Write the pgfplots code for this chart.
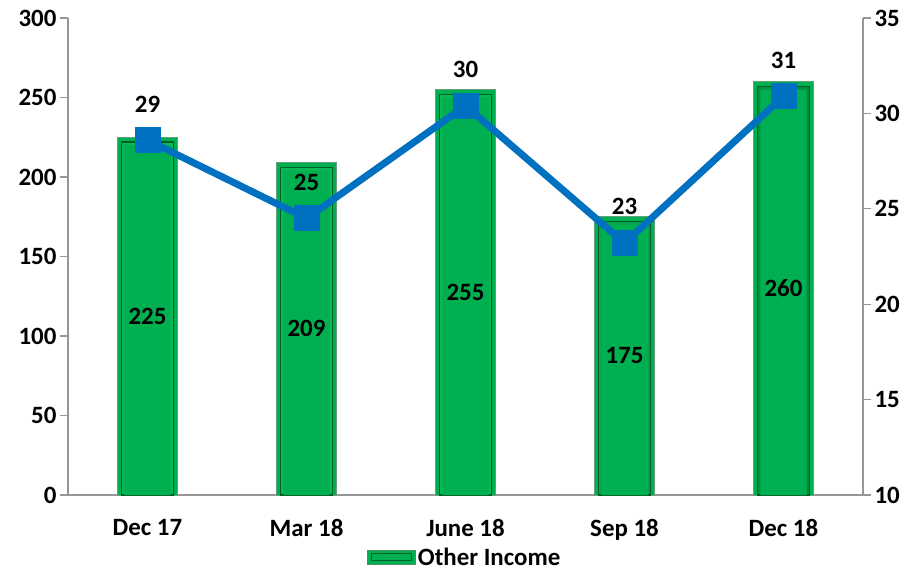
\documentclass[border=0pt]{standalone}
\usepackage{pgfplots}
\pgfplotsset{compat=1.18}
\usepackage{pgfplotstable}
\usepackage{fontspec}
\setmainfont{Carlito}
\definecolor{barg}{RGB}{0,176,80}
\definecolor{barlight}{RGB}{10,184,86}
\definecolor{bardark}{RGB}{0,95,40}
\definecolor{lineb}{RGB}{0,112,192}
\definecolor{axgray}{RGB}{150,150,150}

\pgfplotstableread{
x v line lab
0 225 28.6 29
1 209 24.5 25
2 255 30.4 30
3 175 23.2 23
4 260 30.9 31
}\data

\newcommand{\lblfont}{\bfseries\fontsize{25}{28}\selectfont}

\begin{document}
\begin{tikzpicture}
\path[use as bounding box] (-68bp,-75bp) rectangle (845bp,495bp);
\begin{axis}[
  scale only axis, width=795bp, height=477bp,
  xmin=-0.5, xmax=4.5, ymin=0, ymax=300,
  ytick={0,50,...,300},
  xtick={0,1,2,3,4},
  xticklabels={Dec 17,Mar 18,June 18,Sep 18,Dec 18},
  extra x ticks={-0.5,0.5,1.5,2.5,3.5,4.5},
  extra x tick labels={},
  extra x tick style={major tick length=8bp, tick style={draw=axgray, line width=1.2bp}},
  major x tick style={draw=none},
  axis y line*=left, axis x line*=bottom,
  axis line style={draw=axgray, line width=1.2bp, -},
  tick style={draw=axgray, line width=1.2bp},
  tick align=outside, major tick length=8bp,
  ticklabel style={font=\lblfont},
  xticklabel style={yshift=-13bp},
  /pgf/number format/assume math mode=true,
  clip=false,
  legend style={at={(0.499,-0.13)}, anchor=center, draw=none, fill=none,
    font=\lblfont, inner sep=0pt},
  legend image code/.code={\draw[fill=barg, draw=bardark!70, line width=0.8bp] (0bp,-7bp) rectangle (48bp,7bp);
    \draw[draw=bardark, line width=0.8bp] (4bp,-3.5bp) rectangle (44bp,3.5bp);},
]
\addplot[ybar, bar width=0.38, bar shift=0pt, draw=bardark!60, line width=0.8bp,
  fill=barg] table[x=x, y=v] {\data};
\addlegendentry{Other Income}
\addplot[ybar, bar width=0.33, bar shift=0pt, draw=bardark, line width=1.2bp,
  left color=barlight, right color=barg!80!black, middle color=barlight, forget plot] table[x=x, y expr=\thisrow{v}-3] {\data};
\addplot[ybar, bar width=0.29, bar shift=0pt, draw=none,
  fill=barg, forget plot] table[x=x, y expr=\thisrow{v}-5] {\data};
\addplot[draw=none, forget plot, nodes near coords, point meta=explicit,
  every node near coord/.style={anchor=center, font=\lblfont, text=black}]
  table[x=x, y expr=\thisrow{v}/2, meta=v] {\data};
\end{axis}
\begin{axis}[
  scale only axis, width=795bp, height=477bp,
  xmin=-0.5, xmax=4.5, ymin=10, ymax=35,
  ytick={10,15,...,35},
  axis y line*=right, axis x line=none,
  axis line style={draw=axgray, line width=1.2bp, -},
  tick style={draw=axgray, line width=1.2bp},
  tick align=outside, major tick length=8bp,
  ticklabel style={font=\lblfont},
  /pgf/number format/assume math mode=true,
  clip=false,
]
\addplot[lineb, line width=7bp, mark=square*, mark size=12.5bp, mark options={solid, fill=lineb, draw=lineb, line width=0pt},
  nodes near coords, point meta=explicit,
  every node near coord/.style={anchor=south, inner sep=0pt, yshift=28bp, font=\lblfont, text=black}]
  table[x=x, y=line, meta=lab] {\data};
\end{axis}
\end{tikzpicture}
\end{document}
